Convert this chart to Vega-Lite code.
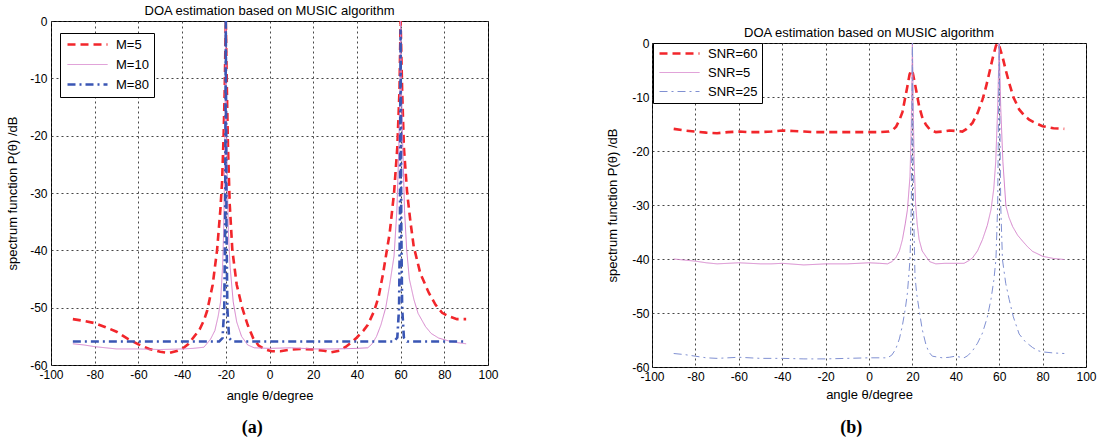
{
  "$schema": "https://vega.github.io/schema/vega-lite/v6.json",
  "padding": {"left": 6, "top": 4, "right": 2, "bottom": 2},
  "background": "white",
  "config": {
    "font": "Liberation Sans",
    "view": {"stroke": "black", "strokeWidth": 1},
    "axis": {
      "grid": true, "gridColor": "#333", "gridDash": [2, 3], "gridOpacity": 0.9, "gridWidth": 1,
      "domain": false, "ticks": false,
      "labelFontSize": 12, "labelColor": "black", "labelPadding": 4,
      "titleFontSize": 13, "titleFontWeight": "normal", "titleColor": "black",
      "labelOverlap": false, "labelBound": false, "labelFlush": false,
      "labelExpr": "'' + datum.value"
    },
    "title": {"fontSize": 13, "fontWeight": "normal", "color": "black", "frame": "group", "offset": -3},
    "legend": {
      "orient": "none", "title": null, "strokeColor": "black", "fillColor": "white",
      "padding": 5, "labelFontSize": 13, "labelColor": "black", "symbolType": "M-1,0H9",
      "symbolSize": 64, "labelOffset": 38, "rowPadding": 6, "cornerRadius": 0
    }
  },
  "datasets": {
    "a": [
      {"series": "M=5", "angle": -90, "value": -52.0},
      {"series": "M=5", "angle": -85, "value": -52.3},
      {"series": "M=5", "angle": -80, "value": -52.7},
      {"series": "M=5", "angle": -75, "value": -53.4},
      {"series": "M=5", "angle": -70, "value": -54.2},
      {"series": "M=5", "angle": -65, "value": -55.4},
      {"series": "M=5", "angle": -60, "value": -56.4},
      {"series": "M=5", "angle": -55, "value": -57.2},
      {"series": "M=5", "angle": -50, "value": -57.7},
      {"series": "M=5", "angle": -46, "value": -57.9},
      {"series": "M=5", "angle": -42, "value": -57.5},
      {"series": "M=5", "angle": -40, "value": -57.2},
      {"series": "M=5", "angle": -37, "value": -56.3},
      {"series": "M=5", "angle": -35, "value": -55.3},
      {"series": "M=5", "angle": -32, "value": -53.8},
      {"series": "M=5", "angle": -30, "value": -52.2},
      {"series": "M=5", "angle": -28.5, "value": -50.5},
      {"series": "M=5", "angle": -26, "value": -46},
      {"series": "M=5", "angle": -24, "value": -40},
      {"series": "M=5", "angle": -22.5, "value": -33},
      {"series": "M=5", "angle": -21.7, "value": -28},
      {"series": "M=5", "angle": -21, "value": -20},
      {"series": "M=5", "angle": -20.5, "value": -12},
      {"series": "M=5", "angle": -20, "value": 0},
      {"series": "M=5", "angle": -19.5, "value": -12},
      {"series": "M=5", "angle": -19, "value": -22},
      {"series": "M=5", "angle": -18.2, "value": -32},
      {"series": "M=5", "angle": -17, "value": -40},
      {"series": "M=5", "angle": -15, "value": -46},
      {"series": "M=5", "angle": -12.5, "value": -50},
      {"series": "M=5", "angle": -10, "value": -53},
      {"series": "M=5", "angle": -7.5, "value": -55.3},
      {"series": "M=5", "angle": -5, "value": -56.6},
      {"series": "M=5", "angle": -2, "value": -57.3},
      {"series": "M=5", "angle": 1, "value": -57.6},
      {"series": "M=5", "angle": 5, "value": -57.6},
      {"series": "M=5", "angle": 10, "value": -57.3},
      {"series": "M=5", "angle": 15, "value": -57.2},
      {"series": "M=5", "angle": 20, "value": -57.3},
      {"series": "M=5", "angle": 25, "value": -57.5},
      {"series": "M=5", "angle": 28, "value": -57.8},
      {"series": "M=5", "angle": 32, "value": -57.5},
      {"series": "M=5", "angle": 35, "value": -56.8},
      {"series": "M=5", "angle": 38, "value": -55.9},
      {"series": "M=5", "angle": 40, "value": -55.2},
      {"series": "M=5", "angle": 43, "value": -54},
      {"series": "M=5", "angle": 45, "value": -53},
      {"series": "M=5", "angle": 48, "value": -50.5},
      {"series": "M=5", "angle": 50, "value": -48},
      {"series": "M=5", "angle": 52, "value": -44},
      {"series": "M=5", "angle": 55, "value": -37},
      {"series": "M=5", "angle": 57, "value": -30},
      {"series": "M=5", "angle": 58.5, "value": -22},
      {"series": "M=5", "angle": 59.5, "value": -12},
      {"series": "M=5", "angle": 60, "value": 0},
      {"series": "M=5", "angle": 60.7, "value": -12},
      {"series": "M=5", "angle": 61.5, "value": -22},
      {"series": "M=5", "angle": 63, "value": -30},
      {"series": "M=5", "angle": 64.5, "value": -35},
      {"series": "M=5", "angle": 66, "value": -39.3},
      {"series": "M=5", "angle": 69, "value": -44},
      {"series": "M=5", "angle": 72.9, "value": -47.4},
      {"series": "M=5", "angle": 76, "value": -49.5},
      {"series": "M=5", "angle": 79, "value": -50.9},
      {"series": "M=5", "angle": 82, "value": -51.5},
      {"series": "M=5", "angle": 85.8, "value": -52},
      {"series": "M=5", "angle": 90, "value": -52},

      {"series": "M=10", "angle": -90, "value": -56.3},
      {"series": "M=10", "angle": -85, "value": -56.5},
      {"series": "M=10", "angle": -80, "value": -56.8},
      {"series": "M=10", "angle": -75, "value": -57.0},
      {"series": "M=10", "angle": -70, "value": -57.2},
      {"series": "M=10", "angle": -60, "value": -57.2},
      {"series": "M=10", "angle": -50, "value": -57.3},
      {"series": "M=10", "angle": -40, "value": -57.2},
      {"series": "M=10", "angle": -35, "value": -57.1},
      {"series": "M=10", "angle": -30, "value": -56.9},
      {"series": "M=10", "angle": -27, "value": -55.5},
      {"series": "M=10", "angle": -25, "value": -54},
      {"series": "M=10", "angle": -23.5, "value": -51.5},
      {"series": "M=10", "angle": -22.4, "value": -49},
      {"series": "M=10", "angle": -21.5, "value": -43},
      {"series": "M=10", "angle": -21, "value": -37},
      {"series": "M=10", "angle": -20.6, "value": -28},
      {"series": "M=10", "angle": -20.3, "value": -15},
      {"series": "M=10", "angle": -20, "value": 0},
      {"series": "M=10", "angle": -19.7, "value": -15},
      {"series": "M=10", "angle": -19.3, "value": -28},
      {"series": "M=10", "angle": -18.8, "value": -37},
      {"series": "M=10", "angle": -18, "value": -43},
      {"series": "M=10", "angle": -16.6, "value": -49},
      {"series": "M=10", "angle": -15, "value": -52.5},
      {"series": "M=10", "angle": -12.8, "value": -55},
      {"series": "M=10", "angle": -10, "value": -56.5},
      {"series": "M=10", "angle": -7, "value": -57},
      {"series": "M=10", "angle": 0, "value": -57.1},
      {"series": "M=10", "angle": 10, "value": -57.0},
      {"series": "M=10", "angle": 20, "value": -57.2},
      {"series": "M=10", "angle": 30, "value": -57.2},
      {"series": "M=10", "angle": 40, "value": -57.1},
      {"series": "M=10", "angle": 45, "value": -57.0},
      {"series": "M=10", "angle": 47, "value": -56.3},
      {"series": "M=10", "angle": 49, "value": -55},
      {"series": "M=10", "angle": 51, "value": -53},
      {"series": "M=10", "angle": 53.2, "value": -50},
      {"series": "M=10", "angle": 55, "value": -46},
      {"series": "M=10", "angle": 57, "value": -41},
      {"series": "M=10", "angle": 58.3, "value": -33},
      {"series": "M=10", "angle": 59.2, "value": -22},
      {"series": "M=10", "angle": 59.7, "value": -12},
      {"series": "M=10", "angle": 60, "value": 0},
      {"series": "M=10", "angle": 60.4, "value": -12},
      {"series": "M=10", "angle": 61, "value": -22},
      {"series": "M=10", "angle": 61.8, "value": -33},
      {"series": "M=10", "angle": 62.8, "value": -40},
      {"series": "M=10", "angle": 64, "value": -45},
      {"series": "M=10", "angle": 66.1, "value": -48.6},
      {"series": "M=10", "angle": 68, "value": -51},
      {"series": "M=10", "angle": 71.4, "value": -53.3},
      {"series": "M=10", "angle": 74, "value": -54.5},
      {"series": "M=10", "angle": 77.4, "value": -55.3},
      {"series": "M=10", "angle": 82, "value": -55.8},
      {"series": "M=10", "angle": 86, "value": -56.1},
      {"series": "M=10", "angle": 90, "value": -56.3},

      {"series": "M=80", "angle": -90, "value": -55.9},
      {"series": "M=80", "angle": -23, "value": -55.9},
      {"series": "M=80", "angle": -21.5, "value": -55.3},
      {"series": "M=80", "angle": -20.7, "value": -50},
      {"series": "M=80", "angle": -20.3, "value": -35},
      {"series": "M=80", "angle": -20, "value": 0},
      {"series": "M=80", "angle": -19.7, "value": -35},
      {"series": "M=80", "angle": -19.3, "value": -50},
      {"series": "M=80", "angle": -18.5, "value": -55.3},
      {"series": "M=80", "angle": -17, "value": -55.9},
      {"series": "M=80", "angle": 57, "value": -55.9},
      {"series": "M=80", "angle": 58.5, "value": -55.2},
      {"series": "M=80", "angle": 59.3, "value": -50},
      {"series": "M=80", "angle": 59.7, "value": -35},
      {"series": "M=80", "angle": 60, "value": -1.5},
      {"series": "M=80", "angle": 60.3, "value": -35},
      {"series": "M=80", "angle": 60.7, "value": -50},
      {"series": "M=80", "angle": 61.5, "value": -55.2},
      {"series": "M=80", "angle": 63, "value": -55.9},
      {"series": "M=80", "angle": 90, "value": -55.9}
    ],
    "b": [
      {"series": "SNR=60", "angle": -90, "value": -15.9},
      {"series": "SNR=60", "angle": -85, "value": -16.2},
      {"series": "SNR=60", "angle": -80, "value": -16.4},
      {"series": "SNR=60", "angle": -75, "value": -16.6},
      {"series": "SNR=60", "angle": -70, "value": -16.7},
      {"series": "SNR=60", "angle": -65, "value": -16.5},
      {"series": "SNR=60", "angle": -60, "value": -16.4},
      {"series": "SNR=60", "angle": -55, "value": -16.5},
      {"series": "SNR=60", "angle": -50, "value": -16.5},
      {"series": "SNR=60", "angle": -45, "value": -16.4},
      {"series": "SNR=60", "angle": -40, "value": -16.2},
      {"series": "SNR=60", "angle": -35, "value": -16.3},
      {"series": "SNR=60", "angle": -30, "value": -16.4},
      {"series": "SNR=60", "angle": -25, "value": -16.5},
      {"series": "SNR=60", "angle": -20, "value": -16.5},
      {"series": "SNR=60", "angle": -10, "value": -16.5},
      {"series": "SNR=60", "angle": 0, "value": -16.5},
      {"series": "SNR=60", "angle": 5, "value": -16.5},
      {"series": "SNR=60", "angle": 9.2, "value": -16.4},
      {"series": "SNR=60", "angle": 11, "value": -16.1},
      {"series": "SNR=60", "angle": 12.5, "value": -15.5},
      {"series": "SNR=60", "angle": 14, "value": -14.3},
      {"series": "SNR=60", "angle": 15.4, "value": -12.8},
      {"series": "SNR=60", "angle": 16.5, "value": -10.5},
      {"series": "SNR=60", "angle": 17.7, "value": -8},
      {"series": "SNR=60", "angle": 18.7, "value": -5.8},
      {"series": "SNR=60", "angle": 19.5, "value": -5},
      {"series": "SNR=60", "angle": 20.2, "value": -5.6},
      {"series": "SNR=60", "angle": 20.8, "value": -6.8},
      {"series": "SNR=60", "angle": 22, "value": -9.3},
      {"series": "SNR=60", "angle": 23.1, "value": -11.7},
      {"series": "SNR=60", "angle": 24.5, "value": -13.7},
      {"series": "SNR=60", "angle": 26.2, "value": -15.1},
      {"series": "SNR=60", "angle": 28, "value": -16},
      {"series": "SNR=60", "angle": 30.8, "value": -16.5},
      {"series": "SNR=60", "angle": 34, "value": -16.4},
      {"series": "SNR=60", "angle": 37, "value": -16.2},
      {"series": "SNR=60", "angle": 40, "value": -16.3},
      {"series": "SNR=60", "angle": 43, "value": -16.4},
      {"series": "SNR=60", "angle": 45, "value": -15.9},
      {"series": "SNR=60", "angle": 47.7, "value": -14.8},
      {"series": "SNR=60", "angle": 50, "value": -13},
      {"series": "SNR=60", "angle": 52.3, "value": -10.5},
      {"series": "SNR=60", "angle": 54, "value": -8},
      {"series": "SNR=60", "angle": 55.4, "value": -5.6},
      {"series": "SNR=60", "angle": 57, "value": -2.8},
      {"series": "SNR=60", "angle": 58.5, "value": -0.5},
      {"series": "SNR=60", "angle": 59.3, "value": 0},
      {"series": "SNR=60", "angle": 60.2, "value": -0.8},
      {"series": "SNR=60", "angle": 61.5, "value": -2.5},
      {"series": "SNR=60", "angle": 63, "value": -5},
      {"series": "SNR=60", "angle": 64.6, "value": -7.4},
      {"series": "SNR=60", "angle": 66.5, "value": -10},
      {"series": "SNR=60", "angle": 69.2, "value": -12.3},
      {"series": "SNR=60", "angle": 71.5, "value": -13.4},
      {"series": "SNR=60", "angle": 73.8, "value": -14.2},
      {"series": "SNR=60", "angle": 77, "value": -14.9},
      {"series": "SNR=60", "angle": 80, "value": -15.4},
      {"series": "SNR=60", "angle": 85, "value": -15.8},
      {"series": "SNR=60", "angle": 90, "value": -15.9},

      {"series": "SNR=5", "angle": -90, "value": -40},
      {"series": "SNR=5", "angle": -85, "value": -40.2},
      {"series": "SNR=5", "angle": -80, "value": -40.4},
      {"series": "SNR=5", "angle": -75, "value": -40.7},
      {"series": "SNR=5", "angle": -70, "value": -40.9},
      {"series": "SNR=5", "angle": -60, "value": -40.7},
      {"series": "SNR=5", "angle": -50, "value": -40.9},
      {"series": "SNR=5", "angle": -45, "value": -40.9},
      {"series": "SNR=5", "angle": -40, "value": -40.8},
      {"series": "SNR=5", "angle": -30, "value": -41.1},
      {"series": "SNR=5", "angle": -20, "value": -40.9},
      {"series": "SNR=5", "angle": -10, "value": -40.9},
      {"series": "SNR=5", "angle": 0, "value": -40.7},
      {"series": "SNR=5", "angle": 5, "value": -40.8},
      {"series": "SNR=5", "angle": 8.5, "value": -40.9},
      {"series": "SNR=5", "angle": 10.5, "value": -40.5},
      {"series": "SNR=5", "angle": 12.3, "value": -39.8},
      {"series": "SNR=5", "angle": 14, "value": -38.5},
      {"series": "SNR=5", "angle": 15.4, "value": -36.4},
      {"series": "SNR=5", "angle": 16.7, "value": -33.5},
      {"series": "SNR=5", "angle": 17.7, "value": -30.9},
      {"series": "SNR=5", "angle": 18.9, "value": -24.7},
      {"series": "SNR=5", "angle": 19.5, "value": -15},
      {"series": "SNR=5", "angle": 20, "value": 0},
      {"series": "SNR=5", "angle": 20.5, "value": -15},
      {"series": "SNR=5", "angle": 20.8, "value": -22},
      {"series": "SNR=5", "angle": 21.5, "value": -30},
      {"series": "SNR=5", "angle": 22.2, "value": -33.5},
      {"series": "SNR=5", "angle": 23.1, "value": -36.4},
      {"series": "SNR=5", "angle": 24.5, "value": -38.5},
      {"series": "SNR=5", "angle": 26.2, "value": -39.5},
      {"series": "SNR=5", "angle": 28, "value": -40.5},
      {"series": "SNR=5", "angle": 30.8, "value": -40.9},
      {"series": "SNR=5", "angle": 35, "value": -40.8},
      {"series": "SNR=5", "angle": 39.7, "value": -40.8},
      {"series": "SNR=5", "angle": 43.8, "value": -40.8},
      {"series": "SNR=5", "angle": 46, "value": -40.3},
      {"series": "SNR=5", "angle": 47.7, "value": -39.8},
      {"series": "SNR=5", "angle": 50, "value": -38.5},
      {"series": "SNR=5", "angle": 52.3, "value": -36.4},
      {"series": "SNR=5", "angle": 54.5, "value": -33.8},
      {"series": "SNR=5", "angle": 56.2, "value": -30.9},
      {"series": "SNR=5", "angle": 57.5, "value": -27},
      {"series": "SNR=5", "angle": 58.4, "value": -22},
      {"series": "SNR=5", "angle": 59.3, "value": -12},
      {"series": "SNR=5", "angle": 60, "value": 0},
      {"series": "SNR=5", "angle": 60.7, "value": -12},
      {"series": "SNR=5", "angle": 61.7, "value": -22},
      {"series": "SNR=5", "angle": 63.1, "value": -30.2},
      {"series": "SNR=5", "angle": 64.5, "value": -32.3},
      {"series": "SNR=5", "angle": 66.2, "value": -34},
      {"series": "SNR=5", "angle": 68.5, "value": -35.6},
      {"series": "SNR=5", "angle": 70.8, "value": -36.7},
      {"series": "SNR=5", "angle": 73, "value": -37.7},
      {"series": "SNR=5", "angle": 75.4, "value": -38.6},
      {"series": "SNR=5", "angle": 78, "value": -39.1},
      {"series": "SNR=5", "angle": 80, "value": -39.5},
      {"series": "SNR=5", "angle": 85, "value": -39.9},
      {"series": "SNR=5", "angle": 90, "value": -40.1},

      {"series": "SNR=25", "angle": -90, "value": -57.5},
      {"series": "SNR=25", "angle": -85, "value": -57.7},
      {"series": "SNR=25", "angle": -80, "value": -58},
      {"series": "SNR=25", "angle": -75, "value": -58.3},
      {"series": "SNR=25", "angle": -70, "value": -58.4},
      {"series": "SNR=25", "angle": -60, "value": -58.2},
      {"series": "SNR=25", "angle": -50, "value": -58.4},
      {"series": "SNR=25", "angle": -40, "value": -58.4},
      {"series": "SNR=25", "angle": -30, "value": -58.5},
      {"series": "SNR=25", "angle": -20, "value": -58.5},
      {"series": "SNR=25", "angle": -10, "value": -58.4},
      {"series": "SNR=25", "angle": 0, "value": -58.3},
      {"series": "SNR=25", "angle": 5, "value": -58.3},
      {"series": "SNR=25", "angle": 8.5, "value": -58.3},
      {"series": "SNR=25", "angle": 10.5, "value": -57.8},
      {"series": "SNR=25", "angle": 12.3, "value": -56.7},
      {"series": "SNR=25", "angle": 14, "value": -54.8},
      {"series": "SNR=25", "angle": 15.4, "value": -52.3},
      {"series": "SNR=25", "angle": 16.7, "value": -49.3},
      {"series": "SNR=25", "angle": 17.7, "value": -46.3},
      {"series": "SNR=25", "angle": 18.9, "value": -40.1},
      {"series": "SNR=25", "angle": 19.5, "value": -30},
      {"series": "SNR=25", "angle": 20, "value": 0},
      {"series": "SNR=25", "angle": 20.5, "value": -30},
      {"series": "SNR=25", "angle": 21.2, "value": -43.2},
      {"series": "SNR=25", "angle": 22, "value": -46.5},
      {"series": "SNR=25", "angle": 23.1, "value": -49.4},
      {"series": "SNR=25", "angle": 24.5, "value": -53},
      {"series": "SNR=25", "angle": 26.2, "value": -55.8},
      {"series": "SNR=25", "angle": 27.5, "value": -57.2},
      {"series": "SNR=25", "angle": 29.2, "value": -58},
      {"series": "SNR=25", "angle": 33.8, "value": -58.3},
      {"series": "SNR=25", "angle": 37, "value": -58.2},
      {"series": "SNR=25", "angle": 39.7, "value": -58},
      {"series": "SNR=25", "angle": 43.8, "value": -58.3},
      {"series": "SNR=25", "angle": 45.5, "value": -57.9},
      {"series": "SNR=25", "angle": 47.7, "value": -57},
      {"series": "SNR=25", "angle": 50, "value": -55.6},
      {"series": "SNR=25", "angle": 52.3, "value": -53.7},
      {"series": "SNR=25", "angle": 54.5, "value": -50.8},
      {"series": "SNR=25", "angle": 56.2, "value": -47.5},
      {"series": "SNR=25", "angle": 57.5, "value": -44},
      {"series": "SNR=25", "angle": 58.5, "value": -40.1},
      {"series": "SNR=25", "angle": 59.3, "value": -30},
      {"series": "SNR=25", "angle": 60, "value": 0},
      {"series": "SNR=25", "angle": 60.7, "value": -30},
      {"series": "SNR=25", "angle": 61.5, "value": -40.1},
      {"series": "SNR=25", "angle": 63, "value": -44.5},
      {"series": "SNR=25", "angle": 64.6, "value": -47.5},
      {"series": "SNR=25", "angle": 66.5, "value": -50.7},
      {"series": "SNR=25", "angle": 69.2, "value": -53.9},
      {"series": "SNR=25", "angle": 72, "value": -55.3},
      {"series": "SNR=25", "angle": 75.4, "value": -56.4},
      {"series": "SNR=25", "angle": 78, "value": -57},
      {"series": "SNR=25", "angle": 80, "value": -57.2},
      {"series": "SNR=25", "angle": 85, "value": -57.4},
      {"series": "SNR=25", "angle": 90, "value": -57.5}
    ]
  },
  "spacing": 107,
  "resolve": {"scale": {"color": "independent", "strokeDash": "independent", "strokeWidth": "independent"}},
  "hconcat": [
    {
      "title": {"text": "(a)", "orient": "bottom", "anchor": "middle", "font": "Liberation Serif", "fontSize": 18, "fontWeight": "bold", "frame": "bounds", "offset": 16},
      "resolve": {"scale": {"color": "independent", "strokeDash": "independent", "strokeWidth": "independent"}},
      "vconcat": [
        {
          "title": {"text": "DOA estimation based on MUSIC algorithm", "anchor": "middle"},
          "width": 437,
          "height": 344,
          "data": {"name": "a"},
          "mark": {"type": "line", "clip": true, "interpolate": "linear"},
          "encoding": {
            "x": {"field": "angle", "type": "quantitative", "scale": {"domain": [-100, 100], "nice": false, "zero": false},
                  "axis": {"values": [-100, -80, -60, -40, -20, 0, 20, 40, 60, 80, 100], "title": "angle θ/degree", "titlePadding": 9}},
            "y": {"field": "value", "type": "quantitative", "scale": {"domain": [-60, 0], "nice": false, "zero": false},
                  "axis": {"values": [-60, -50, -40, -30, -20, -10, 0], "title": "spectrum function P(θ) /dB", "titlePadding": 10}},
            "color": {"field": "series", "type": "nominal", "scale": {"domain": ["M=5", "M=10", "M=80"], "range": ["#f2262b", "#d684cc", "#3a56b4"]},
                      "legend": {"legendX": 9, "legendY": 12, "rowPadding": 6, "padding": 5}},
            "strokeDash": {"field": "series", "type": "nominal", "scale": {"type": "ordinal", "domain": ["M=5", "M=10", "M=80"], "range": [[8, 5], [1, 0], [8, 4, 2, 4]]}},
            "strokeWidth": {"field": "series", "type": "nominal", "scale": {"type": "ordinal", "domain": ["M=5", "M=10", "M=80"], "range": [2.6, 1, 2.6]}},
            "order": {"field": "angle", "type": "quantitative"}
          }
        }
      ]
    },
    {
      "title": {"text": "(b)", "orient": "bottom", "anchor": "middle", "font": "Liberation Serif", "fontSize": 18, "fontWeight": "bold", "frame": "bounds", "offset": 17},
      "spacing": 0,
      "resolve": {"scale": {"color": "independent", "strokeDash": "independent", "strokeWidth": "independent"}},
      "vconcat": [
        {
          "width": 434,
          "height": 5,
          "view": {"stroke": null},
          "data": {"values": []},
          "mark": "point"
        },
        {
          "title": {"text": "DOA estimation based on MUSIC algorithm", "anchor": "middle"},
          "width": 434,
          "height": 324,
          "data": {"name": "b"},
          "mark": {"type": "line", "clip": true, "interpolate": "linear"},
          "encoding": {
            "x": {"field": "angle", "type": "quantitative", "scale": {"domain": [-100, 100], "nice": false, "zero": false},
                  "axis": {"values": [-100, -80, -60, -40, -20, 0, 20, 40, 60, 80, 100], "title": "angle θ/degree", "titlePadding": 6}},
            "y": {"field": "value", "type": "quantitative", "scale": {"domain": [-60, 0], "nice": false, "zero": false},
                  "axis": {"values": [-60, -50, -40, -30, -20, -10, 0], "title": "spectrum function P(θ) /dB", "titlePadding": 12, "labelPadding": 3}},
            "color": {"field": "series", "type": "nominal", "scale": {"domain": ["SNR=60", "SNR=5", "SNR=25"], "range": ["#f2262b", "#d684cc", "#8090d2"]},
                      "legend": {"legendX": 1, "legendY": 0, "rowPadding": 5, "padding": 4}},
            "strokeDash": {"field": "series", "type": "nominal", "scale": {"type": "ordinal", "domain": ["SNR=60", "SNR=5", "SNR=25"], "range": [[8, 5], [1, 0], [8, 4, 2, 4]]}},
            "strokeWidth": {"field": "series", "type": "nominal", "scale": {"type": "ordinal", "domain": ["SNR=60", "SNR=5", "SNR=25"], "range": [2.6, 1, 1]}},
            "order": {"field": "angle", "type": "quantitative"}
          }
        }
      ]
    }
  ]
}
